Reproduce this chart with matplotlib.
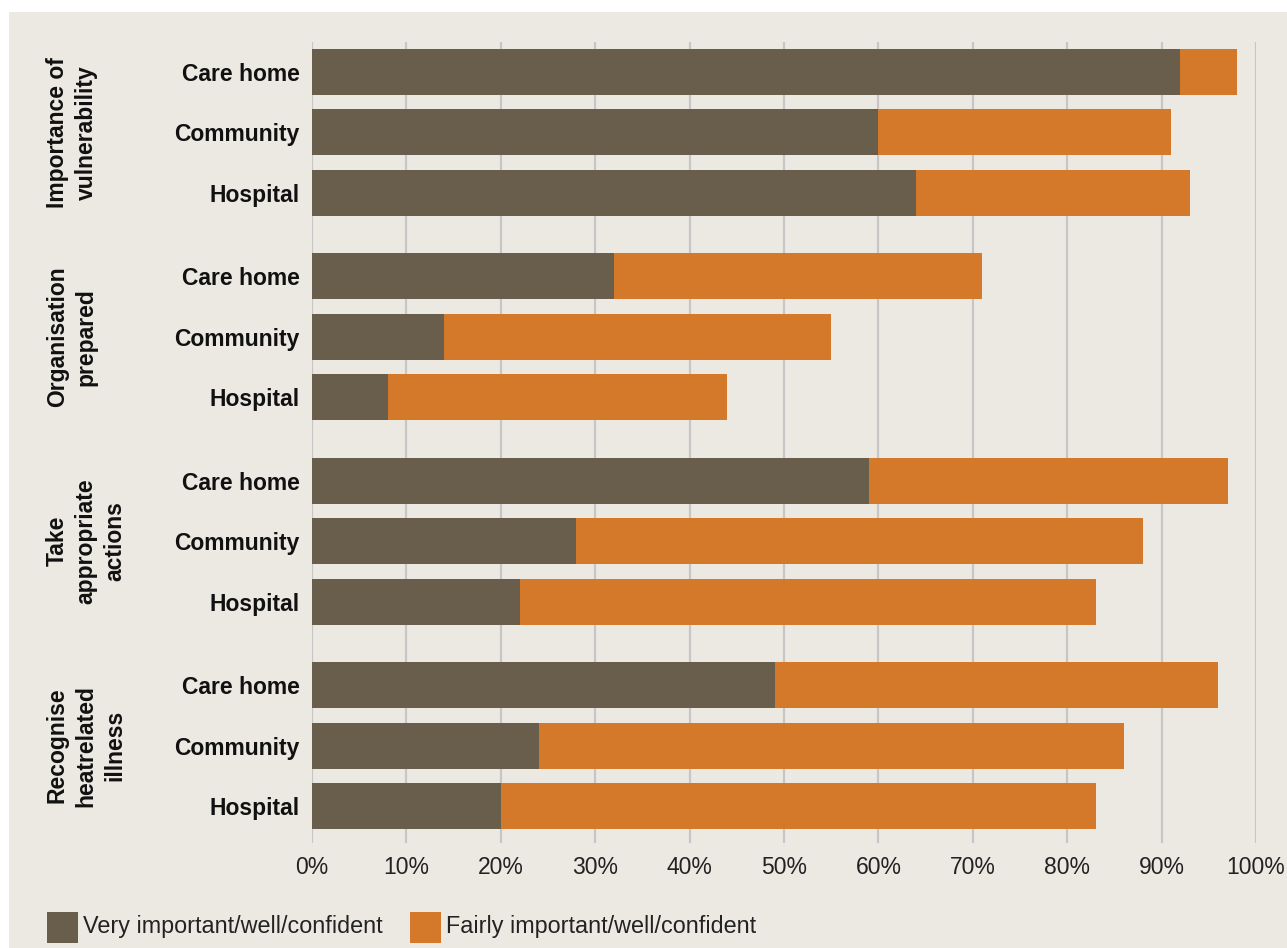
import matplotlib.pyplot as plt
from matplotlib.patches import Rectangle

# Survey results, percent of respondents
groups = ['Importance of\nvulnerability', 'Organisation\nprepared',
          'Take\nappropriate\nactions', 'Recognise\nheatrelated\nillness']
settings = ['Care home', 'Community', 'Hospital']

very = [92, 60, 64,
        32, 14, 8,
        59, 28, 22,
        49, 24, 20]
fairly = [6, 31, 29,
          39, 41, 36,
          38, 60, 61,
          47, 62, 63]

x_ticks = list(range(0, 101, 10))
x_tick_labels = [f'{t}%' for t in x_ticks]

DARK = '#695E4B'
ORANGE = '#D4782A'
BG = '#ECE9E2'
GRID = '#C6C6C6'

plt.rcParams['font.family'] = ['Liberation Sans', 'DejaVu Sans']

fig = plt.figure(figsize=(12.87, 9.48), dpi=100)
fig.patch.set_facecolor('white')
fig.patches.append(Rectangle((9 / 1287, 0), 1, 1 - 12 / 948,
                             transform=fig.transFigure, facecolor=BG,
                             edgecolor='none', zorder=-10))

ax = fig.add_axes([312 / 1287, 1 - 843 / 948, 944 / 1287, 801 / 948])
ax.set_facecolor(BG)

# bar positions: three per group with a small gap between groups
gap = 0.38
pos = []
labels = []
for g in range(len(groups)):
    for i, s in enumerate(settings):
        pos.append(g * (3 + gap) + i)
        labels.append(s)

ax.barh(pos, very, height=0.76, color=DARK, zorder=3)
ax.barh(pos, fairly, left=very, height=0.76, color=ORANGE, zorder=3)

ax.set_xlim(0, 100)
ax.set_ylim(pos[-1] + 0.61, -0.496)

ax.set_xticks(x_ticks)
ax.set_xticklabels(x_tick_labels, fontsize=16.5, color='#222222')
ax.set_yticks(pos)
ax.set_yticklabels(labels, fontsize=16.5, fontweight='bold', color='#111111')
ax.tick_params(axis='both', length=0)
ax.tick_params(axis='x', pad=9)
ax.tick_params(axis='y', pad=9)

ax.grid(axis='x', color=GRID, linewidth=1.6, zorder=0)
for sp in ax.spines.values():
    sp.set_visible(False)

# group titles, rotated on the far left
for g, name in enumerate(groups):
    yc = g * (3 + gap) + 1
    _, ydisp = ax.transData.transform((0, yc))
    yfig = ydisp / fig.bbox.height
    fig.text(46 / 1287, yfig, name, rotation=90, ha='left', va='center',
             multialignment='center', fontsize=16.5, fontweight='bold',
             color='#111111', linespacing=1.32)

# legend along the bottom
ly = 1 - 927 / 948
sq_w, sq_h = 31 / 1287, 31 / 948
for x0, col, txt in [(47, DARK, 'Very important/well/confident'),
                     (410, ORANGE, 'Fairly important/well/confident')]:
    fig.patches.append(Rectangle((x0 / 1287, ly - sq_h / 2), sq_w, sq_h,
                                 transform=fig.transFigure, facecolor=col,
                                 edgecolor='none'))
    fig.text((x0 + 36) / 1287, ly, txt, ha='left', va='center',
             fontsize=16.8, color='#222222')

plt.savefig('out.png', dpi=100, facecolor=fig.get_facecolor())
